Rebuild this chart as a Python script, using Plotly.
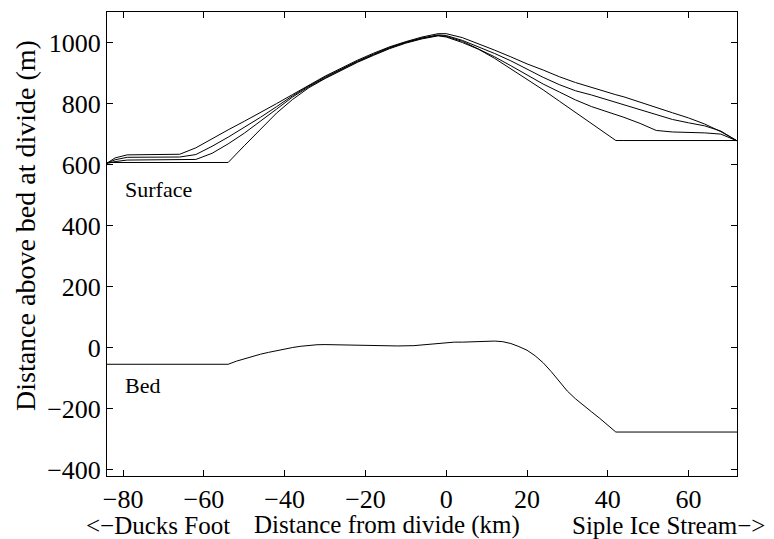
import plotly.graph_objects as go

# Distance from divide (km), shared grid for the surface profiles
x_km = [-84, -82, -79, -74, -70, -66, -62, -58, -54, -50, -46, -42, -38, -34,
        -30, -26, -22, -18, -14, -10, -6, -2, 0, 4, 8, 12, 16, 20, 24, 28, 32,
        36, 40, 42, 44, 48, 52, 56, 60, 64, 68, 72]

surface_1 = [605, 622, 632, 633, 633, 634, 655, 685, 714, 742, 770, 800, 830, 860,
             890, 916, 942, 965, 986, 1003, 1018, 1029, 1029, 1016, 996, 975, 953,
             930, 910, 888, 869, 852, 836, 829, 822, 804, 787, 770, 753, 733, 708, 678]
surface_2 = [605, 616, 624, 625, 625, 625, 633, 660, 690, 722, 755, 790, 826, 858,
             887, 913, 939, 962, 984, 1001, 1015, 1025, 1023, 1007, 986, 964, 940,
             912, 886, 862, 842, 828, 812, 803, 795, 778, 762, 748, 737, 727, 710, 678]
surface_3 = [604, 610, 615, 616, 616, 616, 617, 637, 668, 703, 741, 782, 822, 855,
             884, 911, 937, 960, 982, 1000, 1014, 1023, 1020, 1004, 978, 953, 924,
             893, 864, 838, 812, 790, 773, 765, 755, 735, 712, 707, 706, 704, 700, 678]
surface_4 = [607, 607, 607, 607, 607, 607, 607, 607, 607, 662, 717, 769, 814, 852,
             882, 909, 935, 958, 980, 998, 1012, 1022, 1018, 1000, 978, 948, 914,
             879, 845, 808, 772, 735, 698, 679, 679, 679, 679, 679, 679, 679, 679, 679]

bed_km = [-84, -54, -52, -50, -48, -46, -44, -42, -40, -38, -36, -34, -32, -30, -28,
          -26, -24, -22, -20, -16, -12, -8, -6, -4, -2, 0, 2, 4, 6, 8, 10, 12, 14,
          16, 18, 20, 22, 24, 26, 28, 30, 32, 34, 36, 38, 40, 42, 72]
bed_m = [-54, -54, -44, -36, -28, -21, -15, -9, -4, 1, 5, 8, 10, 10.5, 10,
         9, 7.5, 6.5, 6, 5.5, 6, 7, 9, 12, 15, 17, 18.5, 18.5, 19, 20.5, 22, 22, 20,
         14, 4, -8, -26, -49, -78, -110, -142, -167, -190, -210, -231, -253, -276, -276]

x_ticks = [-80, -60, -40, -20, 0, 20, 40, 60]
y_ticks = [-400, -200, 0, 200, 400, 600, 800, 1000]

x_label_left = "<−Ducks Foot"
x_label_mid = "Distance from divide (km)"
x_label_right = "Siple Ice Stream−>"
y_label = "Distance above bed at divide (m)"

FONT = "Liberation Serif"

fig = go.Figure()
for ys in (surface_1, surface_2, surface_3, surface_4):
    fig.add_trace(go.Scatter(x=x_km, y=ys, mode="lines",
                             line=dict(color="black", width=1),
                             showlegend=False, hoverinfo="skip"))
fig.add_trace(go.Scatter(x=bed_km, y=bed_m, mode="lines",
                         line=dict(color="black", width=1),
                         showlegend=False, hoverinfo="skip"))

axis_common = dict(showgrid=False, zeroline=False, showline=True, linecolor="black",
                   linewidth=1, mirror="ticks", ticks="inside", ticklen=6,
                   tickcolor="black", tickwidth=1,
                   tickfont=dict(family=FONT, size=26, color="black"))

fig.update_xaxes(range=[-84, 72], tickvals=x_ticks, **axis_common)
fig.update_yaxes(range=[-420, 1100], tickvals=y_ticks, **axis_common)

W, H = 774, 539
L, R, T, B = 107, 37, 12, 63
pw, ph = W - L - R, H - T - B

def px(xp):
    return (xp - L) / pw

def py(yp):
    return (H - B - yp) / ph

XL = 25
ann = [
    dict(x=-80, y=520, xref="x", yref="y", text="Surface", xanchor="left", yanchor="middle", size=22),
    dict(x=-80, y=-125, xref="x", yref="y", text="Bed", xanchor="left", yanchor="middle", size=22),
    dict(x=px(232), y=py(525), xref="paper", yref="paper", text=x_label_left,
         xanchor="right", yanchor="middle", size=XL),
    dict(x=px(252), y=py(525), xref="paper", yref="paper", text=x_label_mid,
         xanchor="left", yanchor="middle", size=XL),
    dict(x=px(767), y=py(525), xref="paper", yref="paper", text=x_label_right,
         xanchor="right", yanchor="middle", size=XL),
    dict(x=px(26), y=py(226), xref="paper", yref="paper", text=y_label,
         textangle=-90, xanchor="center", yanchor="middle", size=28),
]
for a in ann:
    s = a.pop("size")
    a.update(showarrow=False, font=dict(family=FONT, size=s, color="black"))

fig.update_layout(width=W, height=H, margin=dict(l=L, r=R, t=T, b=B),
                  paper_bgcolor="white", plot_bgcolor="white", annotations=ann)

fig.write_html("out.html")
